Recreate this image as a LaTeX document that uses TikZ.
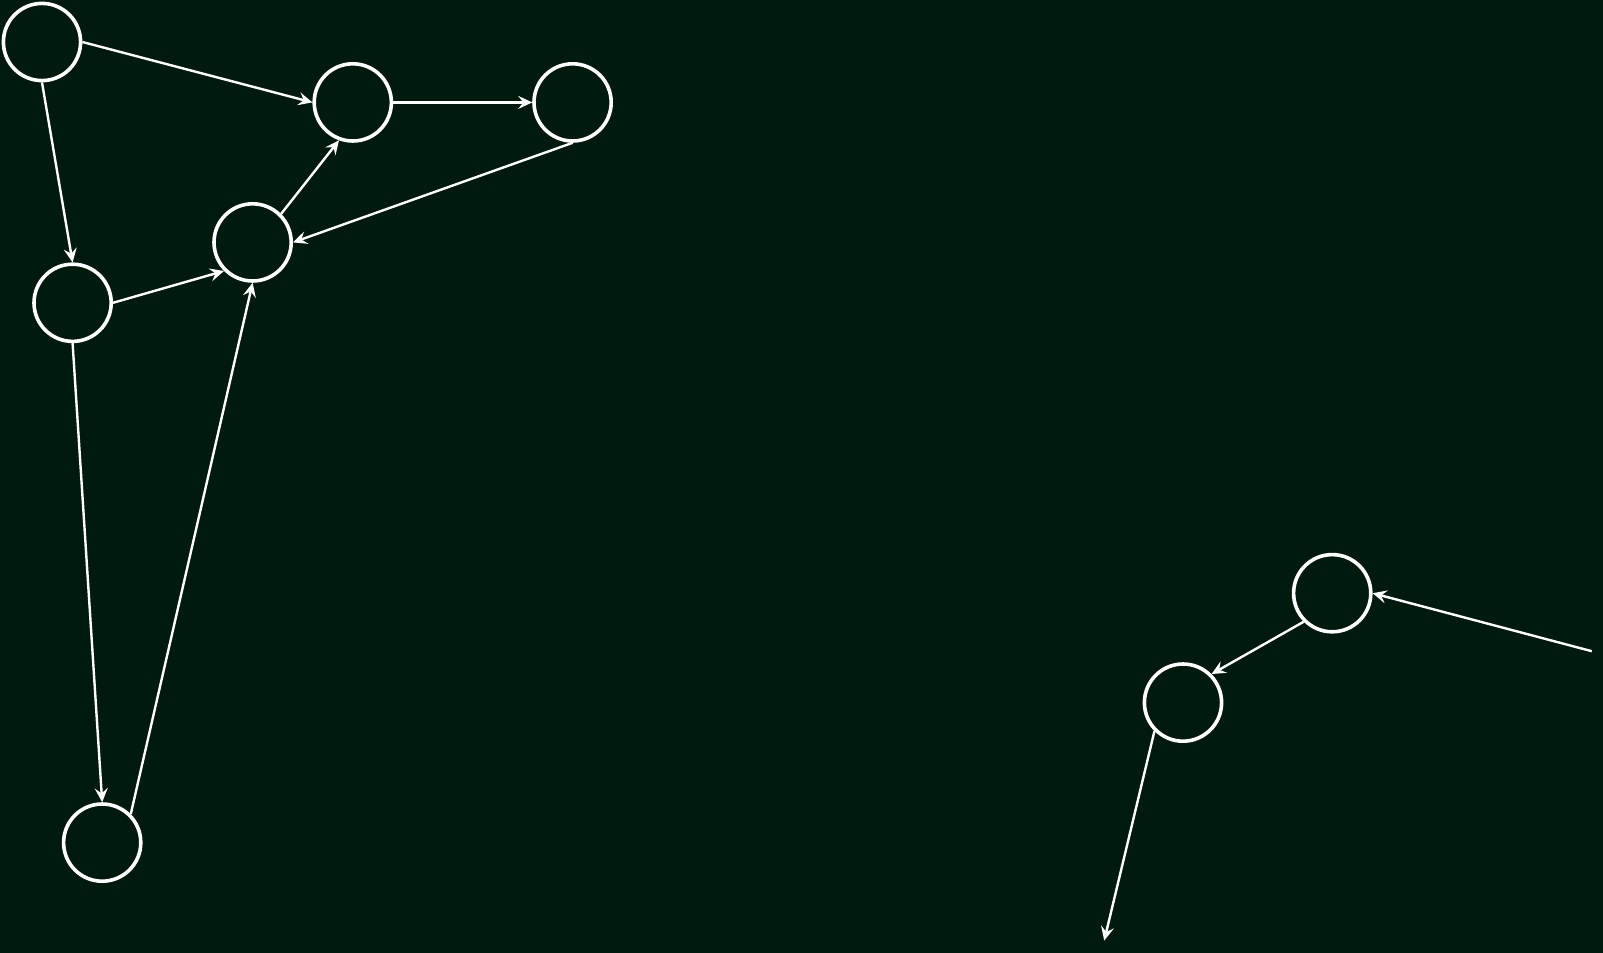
\documentclass[tikz,border=0pt]{standalone}
\usepackage{tikz}
\usetikzlibrary{shapes,positioning,arrows.meta}
\definecolor{bgdark}{RGB}{0,26,14}
\tikzset{vertex/.style={circle,draw=white,minimum size=38.6pt,line width=1.8pt,inner sep=0pt}}
\tikzset{link/.style={-{Stealth[length=7pt,width=6.5pt,inset=2.6pt]},draw=white,line width=1.2pt}}

\begin{document}
\begin{tikzpicture}[node distance=10pt,on grid]
        \fill[bgdark] (0,0) rectangle (801.5pt,-476.5pt);
        \useasboundingbox (0,0) rectangle (801.5pt,-476.5pt);

        \node[vertex] (v1) at (21pt,-21pt) {};
        \node[vertex,below right=30.2pt and 155.4pt of v1] (v2) {};
        \node[vertex,right=109.9pt of v2] (v3) {};
        \node[vertex,below left=70pt and 50.1pt of v2] (v4) {};
        \node[vertex,below right=130.4pt and 15.3pt of v1] (v5) {};
        \node[vertex,below right=269.9pt and 14.8pt of v5] (v6) {};

        \node[vertex,below right=245.4pt and 379.8pt of v3] (w1) {};
        \node[vertex,below left=54.7pt and 74.6pt of w1] (w2) {};
        \coordinate (win) at (795.9pt,-325.6pt);
        \coordinate (wout) at (552.1pt,-470.3pt);

        \draw[link] (v1.east) to (v2.west);
        \draw[link] (v1.south) to (v5.north);
        \draw[link] (v2.east) to (v3.west);
        \draw[link] (v3.south) to (v4.east);
        \draw[link] (v4.north east) to (v2.250);
        \draw[link] (v5.east) to (v4.south west);
        \draw[link] (v5.south) to (v6.north);
        \draw[link] (v6.north east) to (v4.south);

        \draw[link] (win) to (w1.east);
        \draw[link] (w1.south west) to (w2.north east);
        \draw[link] (w2.south west) to (wout);
    \end{tikzpicture}
\end{document}
